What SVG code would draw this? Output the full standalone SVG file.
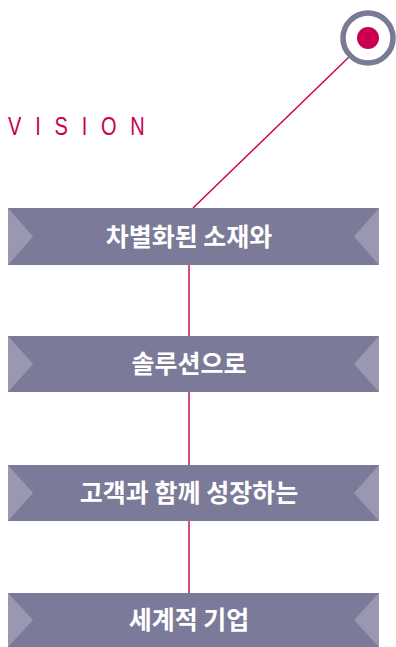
<svg xmlns="http://www.w3.org/2000/svg" width="396" height="647" viewBox="0 0 396 647">
<style>
.box{fill:#7b7a98}
.tri{fill:#9998b0}
.lbl{font-family:"Noto Sans CJK KR","Noto Sans",sans-serif;font-weight:bold;font-size:25px;fill:#fff;text-anchor:middle}
.conn{stroke:#c8004f;stroke-width:1.4;fill:none}
</style>
<rect width="396" height="647" fill="#fff"/>
<g id="connectors">
<line class="conn" x1="193" y1="208" x2="349" y2="57"/>
<line class="conn" x1="189" y1="265" x2="189" y2="593"/>
</g>
<g id="vision-marker">
<circle cx="368" cy="38" r="25" fill="#fff" stroke="#7a7996" stroke-width="5.5"/>
<circle cx="368" cy="38" r="11" fill="#c8004f"/>
</g>
<g id="vision-title">
<text x="8" y="135" font-family="Liberation Sans, sans-serif" font-size="25" fill="#c8004f" textLength="171" lengthAdjust="spacing" transform="translate(8 0) scale(0.8 1) translate(-8 0)">VISION</text>
</g>
<g id="node1">
<rect class="box" x="8" y="208" width="371" height="57"/>
<polygon class="tri" points="8,208 33,236.5 8,265"/>
<polygon class="tri" points="379,208 354,236.5 379,265"/>
<text class="lbl" x="189" y="245.5">차별화된 소재와</text>
</g>
<g id="node2">
<rect class="box" x="8" y="336" width="371" height="56"/>
<polygon class="tri" points="8,336 33,364 8,392"/>
<polygon class="tri" points="379,336 354,364 379,392"/>
<text class="lbl" x="189" y="373">솔루션으로</text>
</g>
<g id="node3">
<rect class="box" x="8" y="465" width="371" height="56"/>
<polygon class="tri" points="8,465 33,493 8,521"/>
<polygon class="tri" points="379,465 354,493 379,521"/>
<text class="lbl" x="189" y="502">고객과 함께 성장하는</text>
</g>
<g id="node4">
<rect class="box" x="8" y="593" width="371" height="54"/>
<polygon class="tri" points="8,593 33,620 8,647"/>
<polygon class="tri" points="379,593 354,620 379,647"/>
<text class="lbl" x="189" y="629">세계적 기업</text>
</g>
</svg>
